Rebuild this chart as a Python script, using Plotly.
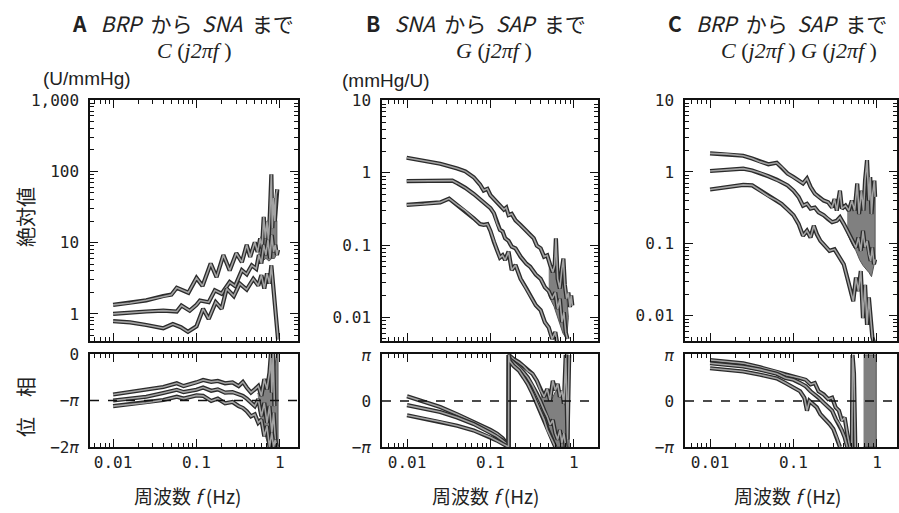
import plotly.graph_objects as go

# ---------------- DATA ----------------
# Panel A : BRP -> SNA, magnitude (U/mmHg)
A_f_hi = [0.010,0.016,0.025,0.040,0.050,0.058,0.070,0.080,0.100,0.118,0.148,0.174,0.21,0.25,0.30,0.35,0.40,0.44,0.50,0.54,0.58,0.61,0.64,0.67,0.70,0.73,0.76,0.79,0.81,0.84,0.87,0.90,0.93]
A_hi = [1.34,1.42,1.55,1.78,1.86,2.33,2.1,1.98,3.2,2.46,5.1,3.27,6.7,4.06,7.1,5.3,9.3,6.3,10.1,7.4,11.5,8.3,23,11.5,19.9,10.3,27,91,15.9,42,19.9,47,56]
A_f_mid = [0.010,0.016,0.025,0.040,0.058,0.066,0.083,0.10,0.11,0.14,0.166,0.20,0.25,0.29,0.35,0.40,0.46,0.52,0.56,0.60,0.64,0.68,0.72,0.76,0.80,0.84,0.88,0.92,0.95]
A_mid = [1.0,1.05,1.08,1.11,1.08,1.31,1.11,1.34,1.54,1.46,2.14,1.92,2.8,2.46,4.1,3.6,4.8,4.3,6.7,5.1,9.3,6.7,10.9,6.0,12.8,7.4,9.3,6.7,7.9]
A_f_lo = [0.010,0.016,0.025,0.040,0.052,0.065,0.079,0.10,0.12,0.14,0.17,0.20,0.23,0.28,0.33,0.40,0.48,0.55,0.60,0.65,0.70,0.75,0.79,0.84,0.88,0.92,0.95]
A_lo = [0.79,0.76,0.70,0.63,0.72,0.65,0.56,0.67,1.18,0.85,1.46,1.18,2.26,1.78,2.66,2.2,3.1,2.5,3.5,2.26,3.7,2.66,4.8,2.26,1.31,0.76,0.44]
A_mblob_f = [0.55,0.62,0.68,0.74,0.80,0.86,0.92,0.92,0.86,0.80,0.74,0.68,0.62,0.55]
A_mblob = [9,14,16,22,30,25,20,7,6,6,5.5,6,5.5,5]

# Panel A phase (in units of pi)
A_pf = [0.010,0.016,0.025,0.040,0.058,0.070,0.10,0.12,0.15,0.18,0.22,0.27,0.32,0.36,0.40,0.45,0.50,0.55,0.60,0.65,0.70,0.75,0.78,0.80,0.83,0.86]
A_ph_hi = [-0.87,-0.82,-0.77,-0.71,-0.63,-0.69,-0.61,-0.56,-0.60,-0.58,-0.63,-0.61,-0.69,-0.60,-0.72,-0.83,-0.76,-0.69,-0.90,-0.54,-0.76,-0.40,0.0,-0.83,0.0,-1.12]
A_pf2 = [0.010,0.016,0.025,0.040,0.058,0.070,0.10,0.12,0.15,0.18,0.22,0.27,0.32,0.36,0.40,0.45,0.50,0.55,0.60,0.65,0.70,0.75,0.80,0.84,0.88]
A_ph_mid = [-1.0,-0.96,-0.92,-0.84,-0.77,-0.82,-0.77,-0.72,-0.79,-0.76,-0.83,-0.82,-0.87,-0.90,-0.96,-1.05,-1.12,-0.97,-1.34,-1.05,-1.48,-1.12,-1.70,-1.26,-1.84]
A_pf3 = [0.010,0.016,0.025,0.040,0.058,0.070,0.10,0.12,0.15,0.18,0.22,0.27,0.32,0.36,0.40,0.45,0.50,0.55,0.60,0.65,0.70,0.75,0.80,0.84,0.88,0.92]
A_ph_lo = [-1.12,-1.08,-1.05,-0.99,-0.92,-0.96,-0.89,-0.90,-1.01,-0.96,-1.06,-1.03,-1.12,-1.16,-1.23,-1.34,-1.30,-1.48,-1.41,-1.77,-1.55,-2.0,-1.70,-2.0,-1.84,-2.0]
A_blob_f = [0.54,0.60,0.66,0.72,0.78,0.80,0.82,0.86,0.92,0.95,0.95,0.92,0.86,0.80,0.74,0.68,0.62,0.56]
A_blob = [-0.85,-0.75,-0.65,-0.6,-0.45,0.0,-0.4,-0.3,0.0,0.0,-2.0,-2.0,-2.0,-2.0,-2.0,-1.8,-1.5,-1.2]

# Panel B : SNA -> SAP, magnitude (mmHg/U)
B_f_hi = [0.0099,0.0158,0.025,0.040,0.050,0.063,0.075,0.083,0.092,0.10,0.12,0.135,0.145,0.155,0.165,0.18,0.20,0.23,0.27,0.30,0.33,0.36,0.40,0.44,0.48,0.52,0.56,0.59,0.61,0.64,0.68,0.72,0.75,0.78,0.82,0.86,0.90,0.93,0.96]
B_hi = [1.62,1.49,1.34,1.15,1.05,0.87,0.69,0.57,0.60,0.49,0.40,0.34,0.31,0.33,0.26,0.27,0.22,0.19,0.157,0.138,0.124,0.098,0.090,0.069,0.072,0.053,0.042,0.053,0.124,0.034,0.025,0.047,0.065,0.028,0.018,0.022,0.0138,0.020,0.0145]
B_f_mid = [0.0099,0.0158,0.025,0.035,0.040,0.050,0.063,0.079,0.10,0.11,0.12,0.13,0.14,0.15,0.165,0.18,0.20,0.23,0.27,0.30,0.35,0.40,0.45,0.50,0.55,0.60,0.64,0.68,0.72,0.76,0.80,0.84]
B_mid = [0.77,0.77,0.77,0.78,0.72,0.62,0.51,0.41,0.325,0.277,0.20,0.162,0.154,0.124,0.114,0.095,0.090,0.069,0.055,0.050,0.039,0.034,0.026,0.023,0.018,0.022,0.013,0.018,0.0085,0.0117,0.0062,0.005]
B_f_lo = [0.0099,0.0158,0.025,0.032,0.040,0.050,0.063,0.075,0.083,0.092,0.10,0.11,0.12,0.13,0.14,0.15,0.165,0.18,0.20,0.23,0.27,0.30,0.35,0.40,0.45,0.50,0.55,0.60,0.64]
B_lo = [0.36,0.37,0.39,0.44,0.36,0.30,0.235,0.195,0.19,0.195,0.157,0.111,0.085,0.067,0.072,0.062,0.081,0.045,0.053,0.034,0.025,0.0196,0.0146,0.0125,0.0085,0.0072,0.005,0.0062,0.004]
B_mblob_f = [0.50,0.58,0.66,0.74,0.82,0.86,0.82,0.74,0.66,0.58,0.50]
B_mblob = [0.06,0.045,0.035,0.03,0.02,0.01,0.005,0.006,0.009,0.014,0.02]

# Panel B phase (units of pi)
B_pf_hi = [0.010,0.016,0.025,0.040,0.063,0.10,0.12,0.14,0.155,0.165,0.166,0.17,0.19,0.22,0.25,0.28,0.32,0.36,0.40,0.44,0.48,0.52,0.56,0.60,0.64,0.68,0.72,0.76,0.80,0.84,0.88]
B_ph_hi = [0.10,-0.02,-0.13,-0.29,-0.45,-0.63,-0.71,-0.81,-0.91,-1.0,1.0,0.98,0.91,0.84,0.76,0.66,0.59,0.44,0.23,0.09,0.26,0.01,0.44,0.23,0.37,0.09,0.23,-0.06,1.0,-0.84,1.0]
B_pf_mid = [0.010,0.016,0.025,0.040,0.063,0.10,0.12,0.14,0.155,0.165,0.166,0.17,0.19,0.22,0.25,0.28,0.32,0.36,0.40,0.44,0.48,0.52,0.56,0.60,0.64,0.68,0.72,0.76,0.80]
B_ph_mid = [-0.09,-0.16,-0.24,-0.36,-0.50,-0.69,-0.77,-0.86,-0.93,-1.0,1.0,0.91,0.84,0.73,0.62,0.51,0.34,0.16,-0.02,-0.20,-0.34,-0.52,-0.41,-0.70,-0.84,-0.63,-0.91,-0.70,-1.0]
B_pf_lo = [0.010,0.016,0.025,0.040,0.063,0.10,0.12,0.14,0.155,0.165,0.166,0.17,0.19,0.22,0.25,0.28,0.32,0.36,0.40,0.44,0.48,0.52,0.56,0.60]
B_ph_lo = [-0.31,-0.38,-0.45,-0.54,-0.64,-0.79,-0.86,-0.93,-0.97,-1.0,1.0,0.87,0.76,0.66,0.51,0.37,0.16,-0.06,-0.24,-0.41,-0.63,-0.77,-0.91,-1.0]
B_blob_f = [0.40,0.45,0.50,0.55,0.60,0.65,0.70,0.75,0.79,0.80,0.86,0.88,0.88,0.84,0.78,0.70,0.62,0.56,0.50,0.45,0.40]
B_blob = [0.2,0.1,0.15,0.05,0.2,0.25,0.1,0.0,-0.1,1.0,1.0,0.9,-1.0,-1.0,-1.0,-1.0,-1.0,-0.9,-0.6,-0.4,-0.25]

# Panel C : BRP -> SAP, magnitude
C_f_hi = [0.010,0.016,0.025,0.032,0.040,0.050,0.063,0.072,0.085,0.10,0.115,0.13,0.145,0.16,0.18,0.20,0.23,0.26,0.29,0.31,0.33,0.36,0.38,0.42,0.46,0.50,0.54,0.58,0.61,0.65,0.69,0.72,0.76,0.80,0.83,0.86,0.89,0.93,0.95]
C_hi = [1.81,1.77,1.68,1.54,1.38,1.28,1.34,1.17,0.95,0.85,0.76,0.69,0.81,0.62,0.50,0.45,0.40,0.38,0.32,0.42,0.29,0.55,0.31,0.34,0.29,0.40,0.29,0.69,0.26,0.55,0.29,0.76,1.46,0.40,0.85,0.26,0.50,0.76,0.45]
C_f_mid = [0.010,0.016,0.025,0.032,0.040,0.050,0.063,0.072,0.085,0.10,0.115,0.13,0.145,0.16,0.18,0.20,0.23,0.26,0.29,0.33,0.36,0.40,0.44,0.48,0.52,0.56,0.60,0.64,0.68,0.72,0.76,0.80,0.84,0.88,0.92,0.95]
C_mid = [1.03,1.08,1.11,1.05,0.97,0.87,0.78,0.72,0.65,0.55,0.45,0.34,0.36,0.31,0.32,0.275,0.25,0.22,0.20,0.21,0.234,0.19,0.152,0.123,0.104,0.089,0.123,0.080,0.152,0.089,0.11,0.072,0.058,0.089,0.052,0.061]
C_f_lo = [0.010,0.016,0.025,0.032,0.040,0.050,0.063,0.072,0.085,0.10,0.115,0.13,0.145,0.16,0.175,0.19,0.21,0.24,0.27,0.31,0.35,0.40,0.44,0.48,0.52,0.56,0.60,0.64,0.68,0.72,0.76,0.80,0.84,0.88,0.92]
C_lo = [0.57,0.62,0.66,0.65,0.55,0.46,0.40,0.36,0.30,0.25,0.19,0.13,0.152,0.123,0.179,0.137,0.11,0.094,0.080,0.084,0.068,0.052,0.034,0.024,0.016,0.034,0.022,0.042,0.0093,0.027,0.0075,0.018,0.0084,0.0051,0.0042]
C_mblob_f = [0.44,0.50,0.56,0.62,0.68,0.74,0.80,0.86,0.92,0.95,0.95,0.92,0.86,0.80,0.74,0.68,0.62,0.56,0.50,0.44]
C_mblob = [0.30,0.35,0.30,0.45,0.40,0.50,0.40,0.35,0.55,0.45,0.06,0.05,0.035,0.04,0.045,0.05,0.06,0.08,0.10,0.14]

# Panel C phase (units of pi)
C_pf_hi = [0.010,0.016,0.025,0.040,0.063,0.08,0.10,0.12,0.14,0.16,0.18,0.20,0.23,0.26,0.29,0.32,0.35,0.38,0.41,0.44,0.47,0.50,0.51,0.53,0.55]
C_ph_hi = [0.89,0.86,0.82,0.73,0.64,0.57,0.54,0.50,0.46,0.36,0.39,0.21,0.14,0.04,0.07,-0.14,-0.21,-0.43,-0.36,-0.71,-1.0,-1.0,1.0,0.6,-1.0]
C_pf_mid = [0.010,0.016,0.025,0.040,0.063,0.08,0.10,0.12,0.14,0.16,0.18,0.20,0.23,0.26,0.29,0.32,0.35,0.38,0.41,0.44]
C_ph_mid = [0.82,0.79,0.75,0.68,0.59,0.50,0.46,0.39,0.32,0.21,0.14,0.07,-0.04,-0.14,-0.21,-0.39,-0.50,-0.64,-0.79,-1.0]
C_pf_lo = [0.010,0.016,0.025,0.040,0.063,0.08,0.10,0.12,0.135,0.145,0.155,0.17,0.19,0.21,0.24,0.27,0.30,0.33,0.36]
C_ph_lo = [0.71,0.68,0.64,0.57,0.49,0.39,0.30,0.21,0.07,-0.21,0.0,-0.07,-0.14,-0.29,-0.39,-0.50,-0.61,-0.79,-1.0]
C_blob_f = [0.69,0.98,0.98,0.69]
C_blob = [1.0,1.0,-1.0,-1.0]

# phase tick labels
phase_ticks_A = [-2, -1, 0]
phase_text_A = ["\u22122<i>\u03c0</i>", "\u2212<i>\u03c0</i>", "0"]
phase_ticks_BC = [-1, 0, 1]
phase_text_BC = ["\u2212<i>\u03c0</i>", "0", "<i>\u03c0</i>"]

# ---------------- FIGURE ----------------
W, H = 899, 513
def dx(a, b): return [a / W, b / W]
def dy(top, bot): return [1 - bot / H, 1 - top / H]

fig = go.Figure()

DARK = "#2b2b2b"
GREY = "#a3a3a3"
BLOB = "#808080"

def series(f, v, xa, ya):
    fig.add_trace(go.Scatter(x=f, y=v, xaxis=xa, yaxis=ya, mode="lines",
                             line=dict(color=DARK, width=4.2), hoverinfo="skip", showlegend=False))
    fig.add_trace(go.Scatter(x=f, y=v, xaxis=xa, yaxis=ya, mode="lines",
                             line=dict(color=GREY, width=1.6), hoverinfo="skip", showlegend=False))

def blob(f, v, xa, ya):
    fig.add_trace(go.Scatter(x=f, y=v, xaxis=xa, yaxis=ya, mode="lines", fill="toself",
                             fillcolor=BLOB, line=dict(color="#555", width=1),
                             hoverinfo="skip", showlegend=False))

blob(A_mblob_f, A_mblob, "x", "y")
series(A_f_hi, A_hi, "x", "y"); series(A_f_mid, A_mid, "x", "y"); series(A_f_lo, A_lo, "x", "y")
blob(B_mblob_f, B_mblob, "x2", "y2")
series(B_f_hi, B_hi, "x2", "y2"); series(B_f_mid, B_mid, "x2", "y2"); series(B_f_lo, B_lo, "x2", "y2")
blob(C_mblob_f, C_mblob, "x3", "y3")
series(C_f_hi, C_hi, "x3", "y3"); series(C_f_mid, C_mid, "x3", "y3"); series(C_f_lo, C_lo, "x3", "y3")

blob(A_blob_f, A_blob, "x4", "y4")
series(A_pf, A_ph_hi, "x4", "y4"); series(A_pf2, A_ph_mid, "x4", "y4"); series(A_pf3, A_ph_lo, "x4", "y4")
blob(B_blob_f, B_blob, "x5", "y5")
series(B_pf_hi, B_ph_hi, "x5", "y5"); series(B_pf_mid, B_ph_mid, "x5", "y5"); series(B_pf_lo, B_ph_lo, "x5", "y5")
blob(C_blob_f, C_blob, "x6", "y6")
series(C_pf_hi, C_ph_hi, "x6", "y6"); series(C_pf_mid, C_ph_mid, "x6", "y6"); series(C_pf_lo, C_ph_lo, "x6", "y6")

TF = dict(family="DejaVu Sans Mono", size=16, color="#222")
common = dict(showline=True, linecolor="#111", linewidth=1.5, mirror="allticks",
              ticks="inside", ticklen=8, tickwidth=1.4, tickcolor="#111",
              showgrid=False, zeroline=False, tickfont=TF)
logaxis = dict(common, type="log", tickmode="linear", tick0=0, dtick=1,
               minor=dict(ticks="inside", ticklen=4, tickwidth=1.1, tickcolor="#111", showgrid=False))

cols = [(90, 298, -2.277, 0.217), (382, 598, -2.30, 0.29), (685, 897, -2.30, 0.24)]
mag_rng = [(-0.38, 3.0), (-2.33, 1.01), (-2.35, 1.0)]
lay = {}
for i, (l, r, x0, x1) in enumerate(cols):
    n = i + 1
    xa = "xaxis" if n == 1 else f"xaxis{n}"
    ya = "yaxis" if n == 1 else f"yaxis{n}"
    yref = "y" if n == 1 else f"y{n}"
    lay[xa] = dict(logaxis, domain=dx(l, r), range=[x0, x1], anchor=yref, showticklabels=False)
    lay[ya] = dict(logaxis, domain=dy(100, 341), range=list(mag_rng[i]),
                   anchor="x" if n == 1 else f"x{n}", ticklabelstandoff=6,
                   tickformat="," if n == 1 else "")
    m = n + 3
    lay[f"xaxis{m}"] = dict(logaxis, domain=dx(l, r), range=[x0, x1], anchor=f"y{m}",
                            showticklabels=True)
    if n == 1:
        pv, pt, pr = phase_ticks_A, phase_text_A, [-2, 0]
    else:
        pv, pt, pr = phase_ticks_BC, phase_text_BC, [-1, 1.02]
    lay[f"yaxis{m}"] = dict(common, domain=dy(354, 447), range=pr, anchor=f"x{m}",
                            tickmode="array", tickvals=pv, ticktext=pt, ticks="", ticklabelstandoff=6)

shapes = []
for m, yv in [(4, -1), (5, 0), (6, 0)]:
    shapes.append(dict(type="line", xref=f"x{m} domain", yref=f"y{m}", x0=0, x1=1, y0=yv, y1=yv,
                       line=dict(color="#111", width=1.5, dash="dash")))

JP = "Noto Sans CJK JP, Liberation Sans"
SER = "Liberation Serif"
def ann(text, x, y, size=18, family=JP, angle=0):
    return dict(text=text, x=x / W, y=1 - y / H, xref="paper", yref="paper", showarrow=False,
                xanchor="center", yanchor="middle", textangle=angle,
                font=dict(size=size, family=family, color="#222"))

S = "\u00a0"
annots = [
    ann(f"<b>A</b>{S*3}<i>BRP</i>{S*2}から{S*2}<i>SNA</i>{S*2}まで", 183, 23, 21),
    ann(f"<i>C</i>{S}(<i>j2πf</i>{S})", 194, 50, 22, SER),
    ann("(U/mmHg)", 87, 78, 19, "Liberation Sans"),
    ann(f"<b>B</b>{S*3}<i>SNA</i>{S*2}から{S*2}<i>SAP</i>{S*2}まで", 476, 23, 21),
    ann(f"<i>G</i>{S}(<i>j2πf</i>{S})", 494, 50, 22, SER),
    ann("(mmHg/U)", 386, 80, 19, "Liberation Sans"),
    ann(f"<b>C</b>{S*3}<i>BRP</i>{S*2}から{S*2}<i>SAP</i>{S*2}まで", 777, 23, 21),
    ann(f"<i>C</i>{S}(<i>j2πf</i>{S}){S}<i>G</i>{S}(<i>j2πf</i>{S})", 799, 50, 22, SER),
    ann("絶対値", 25, 217, 20, angle=-90),
    ann("位　相", 25, 407, 20, angle=-90),
]
for cx in [187, 485, 787]:
    annots.append(ann(f"周波数{S}<i>f</i>{S}(Hz)", cx, 495, 19))

fig.update_layout(template="none", width=W, height=H, margin=dict(l=0, r=0, t=0, b=0),
                  paper_bgcolor="white", plot_bgcolor="white", separators=".,",
                  font=dict(family="DejaVu Sans Mono", color="#222"),
                  shapes=shapes, annotations=annots, showlegend=False, **lay)
fig.write_html("out.html", config={"displayModeBar": False},
               post_script="document.body.style.margin='0';document.body.style.overflow='hidden';")
